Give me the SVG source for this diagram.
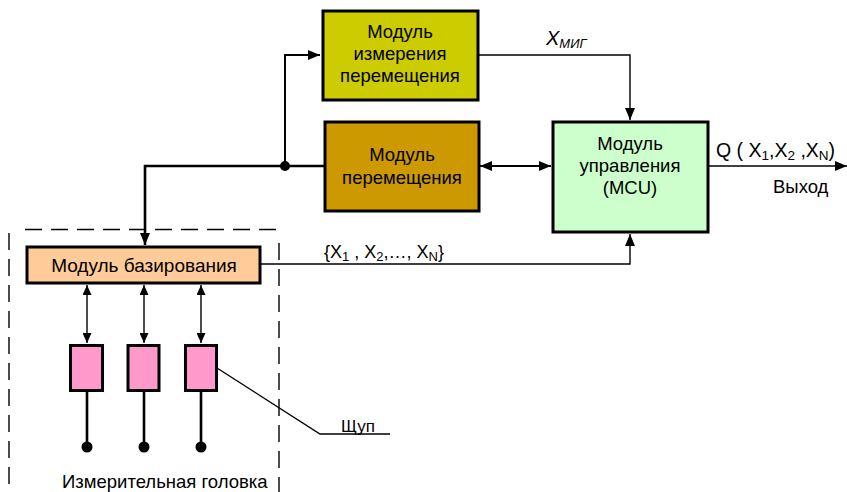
<svg xmlns="http://www.w3.org/2000/svg" width="847" height="492" viewBox="0 0 847 492">
  <defs>
    <marker id="arr" viewBox="0 0 12 10" refX="12" refY="5" markerWidth="12" markerHeight="10" markerUnits="userSpaceOnUse" orient="auto-start-reverse">
      <path d="M0,0 L12,5 L0,10 Z" fill="#000"/>
    </marker>
    <marker id="arrS" viewBox="0 0 10 9" refX="10" refY="4.5" markerWidth="10" markerHeight="9" markerUnits="userSpaceOnUse" orient="auto-start-reverse">
      <path d="M0,0 L10,4.5 L0,9 Z" fill="#000"/>
    </marker>
  </defs>
  <style>
    .box { stroke: #000; stroke-width: 3; }
    .lbl { font-family: "Liberation Sans", Arial, sans-serif; font-size: 18.5px; fill: #000; }
    .ctr { text-anchor: middle; }
    .thick { fill: none; stroke: #000; stroke-width: 2.6; }
    .mid { fill: none; stroke: #000; stroke-width: 2; }
    .thin { fill: none; stroke: #000; stroke-width: 1.4; }
    .dash { fill: none; stroke: #000; stroke-width: 1.4; stroke-dasharray: 17 9; }
  </style>
  <rect width="847" height="492" fill="#fff"/>

  <!-- measuring head frame -->
  <g id="head-frame">
    <line class="dash" x1="25" y1="229.5" x2="280" y2="229.5"/>
    <line class="dash" x1="9" y1="233" x2="9" y2="492"/>
    <line class="dash" x1="279" y1="243" x2="279" y2="492"/>
  </g>

  <!-- connectors -->
  <g id="connectors">
    <path class="thick" d="M325,166 H145 V245" marker-end="url(#arr)"/>
    <path class="mid" d="M285,166 V55 H320" marker-end="url(#arr)"/>
    <circle cx="285" cy="166" r="5" fill="#000"/>
    <path class="mid" d="M480,166 H551" marker-start="url(#arr)" marker-end="url(#arr)"/>
    <path class="thin" d="M479,55 H630 V120" marker-end="url(#arr)"/>
    <path class="thin" d="M709,166 H847" marker-end="url(#arr)"/>
    <path class="thin" d="M261,264 H630 V234" marker-end="url(#arr)"/>
    <path class="thin" d="M87,285 V343" marker-start="url(#arrS)" marker-end="url(#arrS)"/>
    <path class="thin" d="M144,285 V343" marker-start="url(#arrS)" marker-end="url(#arrS)"/>
    <path class="thin" d="M201,285 V343" marker-start="url(#arrS)" marker-end="url(#arrS)"/>
    <path class="thin" d="M217,368 L320,434 H390"/>
  </g>

  <g id="measure-module">
    <rect class="box" x="323" y="11" width="155" height="89" fill="#cccc00"/>
    <text class="lbl ctr" x="400" y="38">Модуль</text>
    <text class="lbl ctr" x="400" y="60">измерения</text>
    <text class="lbl ctr" x="400" y="82">перемещения</text>
  </g>

  <g id="move-module">
    <rect class="box" x="325" y="122" width="154" height="89" fill="#cc9900"/>
    <text class="lbl ctr" x="402" y="161">Модуль</text>
    <text class="lbl ctr" x="402" y="184">перемещения</text>
  </g>

  <g id="mcu">
    <rect class="box" x="553" y="122" width="155" height="110" fill="#ccffcc"/>
    <text class="lbl ctr" x="630" y="150">Модуль</text>
    <text class="lbl ctr" x="630" y="172">управления</text>
    <text class="lbl ctr" x="630" y="194">(MCU)</text>
  </g>

  <g id="base-module">
    <rect class="box" x="27" y="247" width="233" height="36" fill="#ffcc99"/>
    <text class="lbl ctr" x="144" y="272" style="font-size:19px">Модуль базирования</text>
  </g>

  <g id="probes">
    <rect class="box" x="70.5" y="345.5" width="32" height="45" fill="#ff99cc"/>
    <rect class="box" x="128" y="345.5" width="31" height="45" fill="#ff99cc"/>
    <rect class="box" x="185.5" y="345.5" width="31" height="45" fill="#ff99cc"/>
    <path class="thick" d="M87,391 V447 M144,391 V447 M201,391 V447"/>
    <circle cx="87" cy="447" r="5.5" fill="#000"/>
    <circle cx="144" cy="447" r="5.5" fill="#000"/>
    <circle cx="201" cy="447" r="5.5" fill="#000"/>
  </g>

  <g id="labels">
    <text class="lbl" x="546" y="45" font-style="italic" style="font-size:20px">X<tspan font-size="13" dy="3">МИГ</tspan></text>
    <text class="lbl" x="716" y="157" style="font-size:19.5px">Q ( X<tspan font-size="13.5" dy="3">1</tspan><tspan dy="-3">,X</tspan><tspan font-size="13.5" dy="3">2</tspan><tspan dy="-3"> ,X</tspan><tspan font-size="13.5" dy="3">N</tspan><tspan dy="-3">)</tspan></text>
    <text class="lbl" x="773" y="193">Выход</text>
    <text class="lbl" x="324" y="258" style="font-size:18px">{X<tspan font-size="13" dy="3">1</tspan><tspan dy="-3"> , X</tspan><tspan font-size="13" dy="3">2</tspan><tspan dy="-3">,…, X</tspan><tspan font-size="13" dy="3">N</tspan><tspan dy="-3">}</tspan></text>
    <text class="lbl" x="341" y="432" style="font-size:17px">Щуп</text>
    <text class="lbl" x="62" y="488">Измерительная головка</text>
  </g>
</svg>
